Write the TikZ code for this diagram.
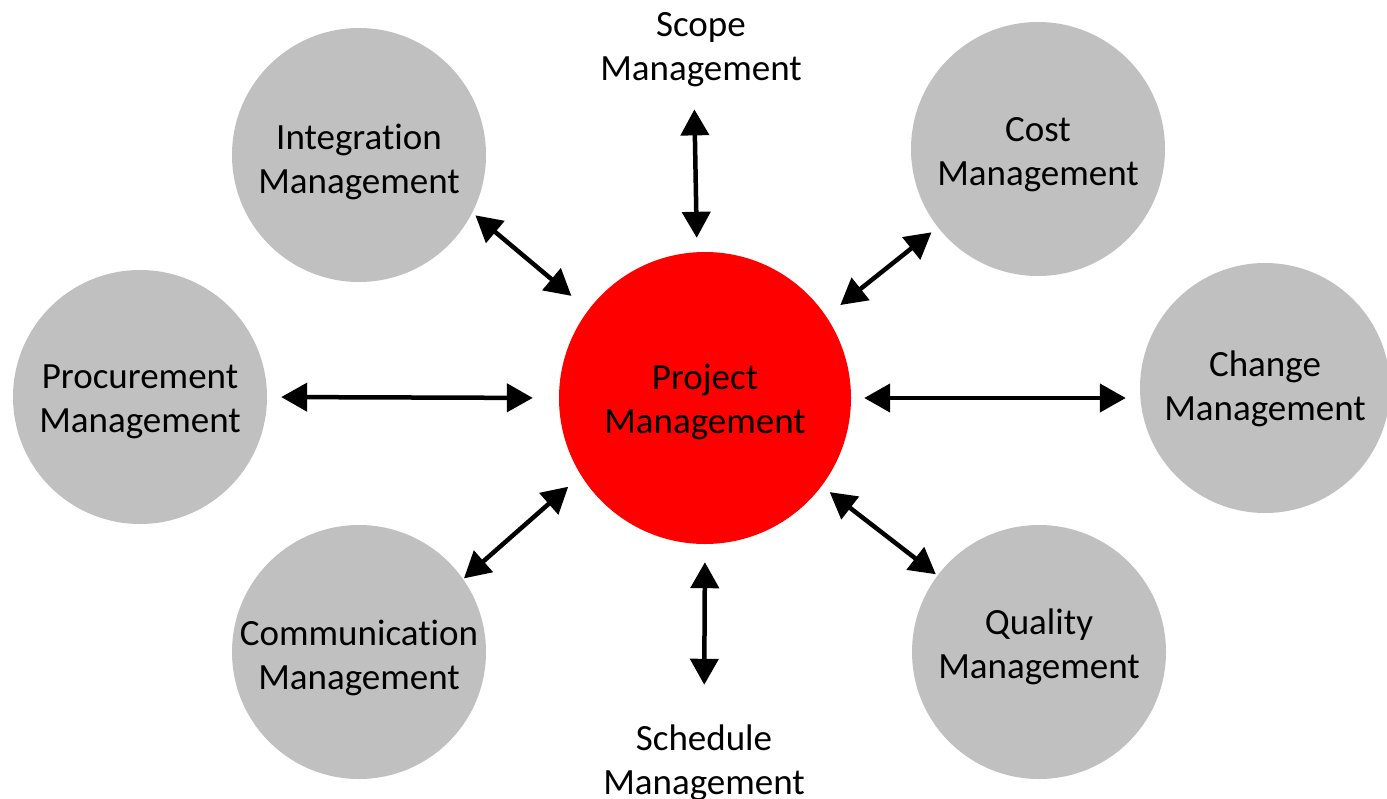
\documentclass[tikz,border=0pt]{standalone}
\usepackage{fontspec}
\setmainfont[Ligatures=NoCommon]{Carlito}
\usetikzlibrary{arrows.meta}
\definecolor{areagray}{RGB}{192,192,192}
\definecolor{pmred}{RGB}{255,0,0}

\begin{document}
\begin{tikzpicture}[x=1pt,y=-1pt]
\tikzstyle{every node}+=[inner sep=0pt, align=center, font=\fontsize{37}{44}\selectfont]
\tikzstyle{area}=[circle, fill=areagray, minimum size=254pt]
\tikzstyle{biarrow}=[black, line width=4.5pt, {Triangle[length=26pt,width=28pt]}-{Triangle[length=26pt,width=28pt]}]
\useasboundingbox (0,0) rectangle (1387,798);
% centre
\node [circle, fill=pmred, minimum size=292pt, label={[yshift=-4pt]center:Project\\Management}] (pm) at (705,398) {};
% knowledge areas
\node [area, label={[yshift=-7pt]center:Integration\\Management}] (integ) at (359,155) {};
\node [area, label={[yshift=-6pt]center:Cost\\Management}] (cost) at (1038,149) {};
\node [area, label={[yshift=-5pt]center:Procurement\\Management}] (proc) at (140,397) {};
\node [area, minimum size=250pt, label={[yshift=-1pt]center:Change\\Management}] (chg) at (1265,388) {};
\node [area, label={[yshift=-6pt]center:Communication\\Management}] (comm) at (359,652) {};
\node [area, label={[yshift=5pt]center:Quality\\Management}] (qual) at (1039,652) {};
\node (scope) at (701,50) {Scope\\Management};
\node (sched) at (704,763) {Schedule\\Management};
% links
\draw [biarrow, shorten <=22pt, shorten >=14pt] ([xshift=-7pt]scope.south) -- ([xshift=-8pt]pm.north);
\draw [biarrow, shorten <=18pt, shorten >=40pt] (pm.south) -- (sched.north);
\draw [biarrow, shorten <=4pt, shorten >=22pt] (integ.-27) -- (pm.143.5);
\draw [biarrow, shorten <=8pt, shorten >=18pt] (cost.218) -- (pm.34.6);
\draw [biarrow, shorten <=14pt, shorten >=26pt] (proc.east) -- (pm.west);
\draw [biarrow, shorten <=13pt, shorten >=14pt] (pm.east) -- (pm.east -| chg.west);
\draw [biarrow, shorten <=17pt, shorten >=1pt] (pm.212.2) -- (comm.35.8);
\draw [biarrow, shorten <=10pt, shorten >=2pt] (pm.-37.2) -- (qual.143.8);
\end{tikzpicture}
\end{document}
